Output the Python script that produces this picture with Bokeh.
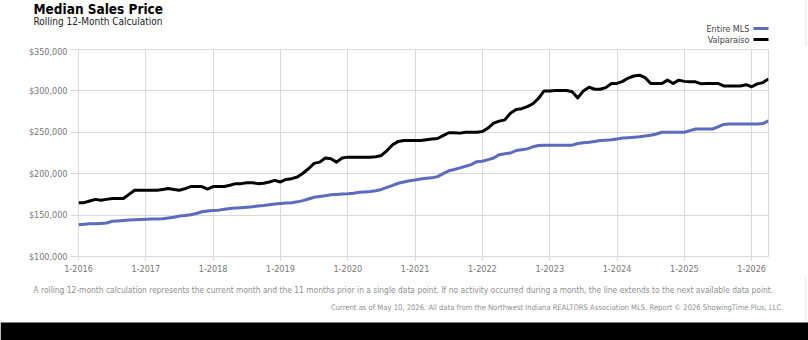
from bokeh.plotting import figure
from bokeh.models import Label, Range1d, FixedTicker
from bokeh.embed import file_html
from bokeh.resources import INLINE

# ---- data (monthly rolling 12-month median in $1000s, Jan 2016 .. Apr 2026) ----
valparaiso = [
    165, 165, 167, 169, 168, 169, 170, 170, 170, 175, 180, 180,            # 2016
    180, 180, 180, 181, 182, 181, 180, 182, 184.5, 184.5, 184.5, 181.5,    # 2017
    184.5, 184.5, 184.5, 186, 188, 188, 189, 189, 188, 188.5, 190, 192,    # 2018
    190, 193, 194, 196, 200.5, 206, 212.5, 214, 219, 218, 214, 219,        # 2019
    220, 220, 220, 220, 220, 220.5, 222, 228, 235, 239, 240, 240,          # 2020
    240, 240, 241, 242, 242.5, 246, 249.5, 249.5, 249, 250, 250, 250,      # 2021
    251, 255, 261, 263.5, 265, 273, 277.5, 278.5, 281, 284.5, 291, 300,    # 2022
    300, 300.5, 300.5, 300.5, 299, 291.5, 300, 304.5, 302, 302, 304, 309,  # 2023
    309, 311.5, 315.5, 318, 319, 316, 309, 309, 309, 313, 309, 313,        # 2024
    311.5, 311, 311, 308.5, 309, 309, 309, 306, 306, 306, 306, 307.5,      # 2025
    305, 308.5, 310, 314.5,                                                # 2026
]
entire_mls = [
    138.3, 139, 139.5, 139.5, 140, 140.5, 142.5, 143, 143.5, 144, 144.5, 144.7,
    145, 145.2, 145.2, 145.5, 146.5, 147.5, 149, 149.5, 150.5, 152, 154, 155,
    155.5, 156, 157, 158, 158.5, 159, 159.5, 160, 161, 161.5, 162.5, 163.5,
    164, 164.5, 165, 166, 167.5, 169.5, 171.5, 172.5, 173.5, 174.5, 175, 175.5,
    175.7, 176.5, 177.5, 178, 178.5, 179.5, 181, 183.5, 186, 188.5, 190, 191.5,
    192.5, 193.5, 194.5, 195, 196.5, 200, 203.5, 205, 207, 209, 211, 214.5,
    215, 217, 219, 223, 224, 225, 228, 229, 230, 232.5, 234, 234.5,
    234.5, 234.5, 234.5, 234.5, 234.5, 236.5, 237.5, 238, 239, 240, 240.5, 241,
    242, 243, 243.5, 244, 244.5, 245.5, 246.5, 248, 250, 250, 250, 250,
    250, 252, 254, 254, 254, 254, 256.5, 259.5, 260, 260, 260, 260,
    260, 260, 260.5, 264,
]
months = list(range(len(valparaiso)))
valparaiso_usd = [v * 1000 for v in valparaiso]
entire_mls_usd = [v * 1000 for v in entire_mls]

x_tick_months = [0, 12, 24, 36, 48, 60, 72, 84, 96, 108, 120]
x_tick_labels = ["1-2016", "1-2017", "1-2018", "1-2019", "1-2020", "1-2021",
                 "1-2022", "1-2023", "1-2024", "1-2025", "1-2026"]
y_ticks = [100000, 150000, 200000, 250000, 300000, 350000]
y_tick_labels = ["$100,000", "$150,000", "$200,000", "$250,000", "$300,000", "$350,000"]

title = "Median Sales Price"
subtitle = "Rolling 12-Month Calculation"
series_names = ["Entire MLS", "Valparaiso"]
note = ("A rolling 12-month calculation represents the current month and the 11 months prior "
        "in a single data point. If no activity occurred during a month, the line extends to "
        "the next available data point.")
source_note = ("Current as of May 10, 2026. All data from the Northwest Indiana REALTORS "
               "Association MLS. Report \u00a9 2026 ShowingTime Plus, LLC.")

FONT = "Liberation Sans Narrow, DejaVu Sans Condensed, sans-serif"
BLUE = "#5b6bbd"
GRID = "#d9d9d9"
W = 808
HEAD_H, MAIN_H, FOOT_H = 46, 230, 64


def blank_fig(h):
    f = figure(width=W, height=h, output_backend="svg", toolbar_location=None,
               x_range=Range1d(0, W), y_range=Range1d(h, 0),
               x_axis_type=None, y_axis_type=None,
               min_border=0, min_border_left=0, min_border_right=0,
               min_border_top=0, min_border_bottom=0)
    f.grid.visible = False
    f.outline_line_color = None
    return f


def add_text(f, h, text, cx, cy, size, color, style="normal", align="left"):
    # (cx, cy): canvas position with origin top-left; Label screen units are y-up
    f.add_layout(Label(x=cx, y=h - cy, x_units="screen", y_units="screen", text=text,
                       text_font=FONT, text_font_size=size, text_color=color,
                       text_font_style=style, text_align=align, text_baseline="middle"))


# ---- header: title, subtitle, legend ----
head = blank_fig(HEAD_H)
add_text(head, HEAD_H, title, 33, 8.5, "13.5px", "#000000", style="bold")
add_text(head, HEAD_H, subtitle, 33, 21, "10px", "#222222")
add_text(head, HEAD_H, series_names[0], 749, 28, "9px", "#444444", align="right")
add_text(head, HEAD_H, series_names[1], 749, 39, "9px", "#444444", align="right")
head.segment(x0=[753, 753], y0=[28, 39], x1=[768, 768], y1=[28, 39],
             line_color=[BLUE, "black"], line_width=3)
head.segment(x0=[805.5], y0=[0], x1=[805.5], y1=[HEAD_H], line_color="#e3e3e3", line_width=1)

# ---- main chart ----
p = figure(width=W, height=MAIN_H, output_backend="svg", toolbar_location=None,
           x_range=Range1d(0, months[-1]), y_range=Range1d(y_ticks[0], y_ticks[-1]),
           min_border_left=78, min_border_right=40, min_border_top=3, min_border_bottom=20)
p.outline_line_color = GRID

p.xaxis.ticker = FixedTicker(ticks=x_tick_months)
p.xaxis.major_label_overrides = {t: l for t, l in zip(x_tick_months, x_tick_labels)}
p.yaxis.ticker = FixedTicker(ticks=y_ticks)
p.yaxis.major_label_overrides = {t: l for t, l in zip(y_ticks, y_tick_labels)}
p.xgrid.ticker = FixedTicker(ticks=x_tick_months)
p.ygrid.ticker = FixedTicker(ticks=y_ticks)
for g in (p.xgrid, p.ygrid):
    g.grid_line_color = GRID
    g.grid_line_width = 1
for ax in (p.xaxis, p.yaxis):
    ax.axis_line_color = None
    ax.major_tick_line_color = GRID
    ax.major_tick_in = 0
    ax.minor_tick_line_color = None
    ax.major_label_text_font = FONT
    ax.major_label_text_font_size = "9px"
    ax.major_label_text_color = "#777777"
p.yaxis.major_tick_out = 8
p.yaxis.major_label_standoff = 3
p.xaxis.major_tick_out = 4
p.xaxis.major_label_standoff = 4

p.line(months, entire_mls_usd, line_color=BLUE, line_width=3, line_join="round")
p.line(months, valparaiso_usd, line_color="black", line_width=3, line_join="round")

# ---- footer: notes and black bar ----
foot = blank_fig(FOOT_H)
add_text(foot, FOOT_H, note, 33, 13, "8.4px", "#8f8f8f")
add_text(foot, FOOT_H, source_note, 783, 31, "7.6px", "#8f8f8f", align="right")
foot.segment(x0=[805.5], y0=[0], x1=[805.5], y1=[46], line_color="#e3e3e3", line_width=1)
foot.quad(left=[0], right=[W], top=[46], bottom=[FOOT_H], fill_color="black", line_color=None)

# separate roots (stacked in the page) so the frames are not aligned to each other
open("out.html", "w").write(file_html([head, p, foot], INLINE))
